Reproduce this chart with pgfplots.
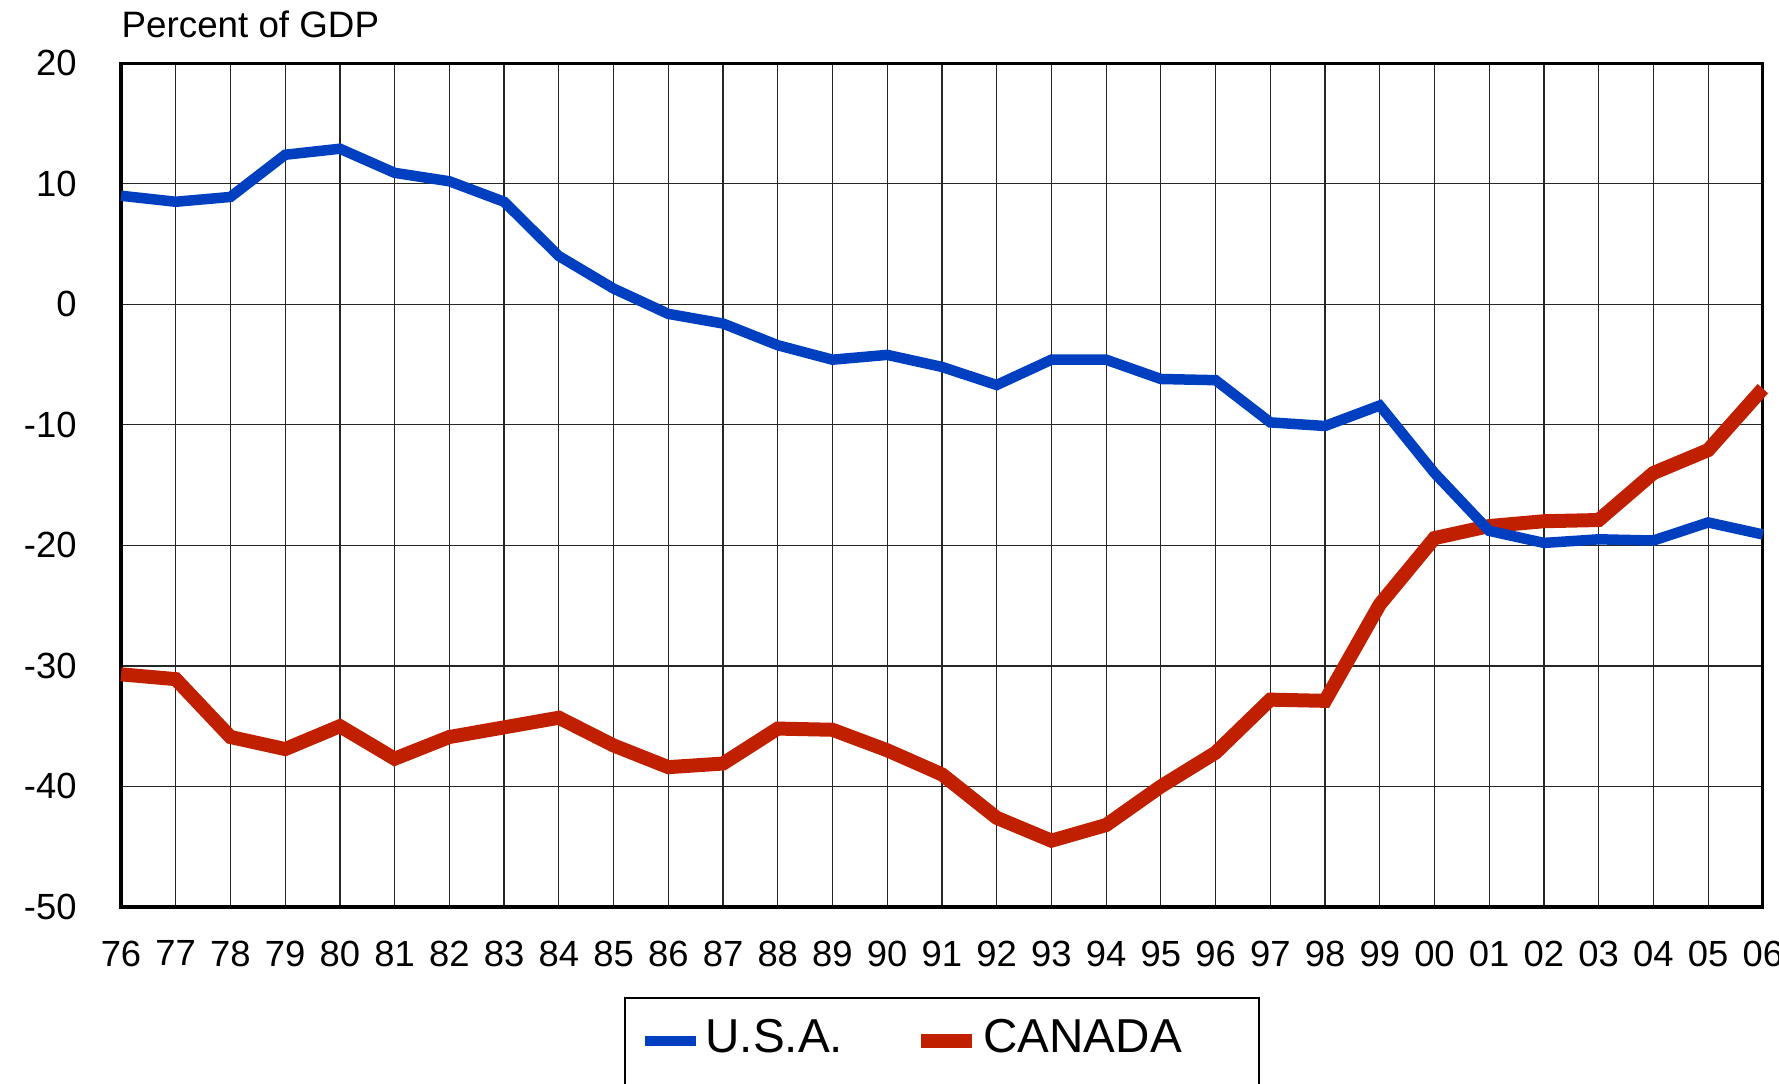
\documentclass[border=0pt]{standalone}
\usepackage{fontspec}
\setmainfont{Liberation Sans}
\usepackage{pgfplots}
\pgfplotsset{compat=1.18}
\definecolor{usablue}{RGB}{0,64,192}
\definecolor{canred}{RGB}{192,32,0}
\begin{document}
\begin{tikzpicture}
\begin{axis}[
  scale only axis, width=469.1pt, height=241.1pt,
  at={(0,0)}, anchor=south west,
  xmin=0, xmax=30, ymin=-50, ymax=20,
  xtick={0,...,30},
  xticklabels={76,77,78,79,80,81,82,83,84,85,86,87,88,89,90,91,92,93,94,95,96,97,98,99,00,01,02,03,04,05,06},
  ytick={-50,-40,-30,-20,-10,0,10,20},
  yticklabels={-50,-40,-30,-20,-10,0,10,20},
  major tick length=0pt,
  grid=major,
  major grid style={black!85, line width=0.35pt},
  axis line style={black, line width=0.9pt},
  tick label style={font=\fontsize{10.4}{12}\selectfont},
  yticklabel style={anchor=east, inner sep=0pt, xshift=-12.5pt},
  xticklabel style={anchor=north, inner sep=0pt, yshift=-9.4pt},
  clip=false,
  legend columns=2,
  legend style={at={(0.5,0)}, anchor=north, yshift=-25.7pt, draw=black, line width=0.6pt,
    inner xsep=4.4pt, inner ysep=6pt, font=\fontsize{13.6}{16}\selectfont,
    nodes={inner sep=0pt, text depth=20pt},
    /tikz/every odd column/.append style={column sep=1.2pt},
    /tikz/every even column/.append style={column sep=20.4pt}},
  legend image code/.code={\draw[#1, line cap=butt] (0pt,8.4pt) -- (14.5pt,8.4pt);},
]
\addlegendimage{usablue, line width=3pt}
\addlegendentry{U.S.A.}
\addlegendimage{canred, line width=4pt}
\addlegendentry{CANADA\hspace*{17.7pt}}
\addplot[canred, line width=4pt, line join=miter, line cap=butt, mark=none, forget plot] coordinates {
(0,-30.7) (1,-31.1) (2,-35.9) (3,-36.9) (4,-35.0) (5,-37.7) (6,-35.9) (7,-35.1) (8,-34.3) (9,-36.6)
(10,-38.4) (11,-38.1) (12,-35.2) (13,-35.3) (14,-37.0) (15,-39.0) (16,-42.6) (17,-44.5) (18,-43.2) (19,-40.0)
(20,-37.2) (21,-32.8) (22,-32.9) (23,-24.9) (24,-19.4) (25,-18.4) (26,-18.0) (27,-17.9) (28,-14.0) (29,-12.1) (30,-7.0)};
\addplot[usablue, line width=3pt, line join=miter, line cap=butt, mark=none, forget plot] coordinates {
(0,9.0) (1,8.5) (2,8.9) (3,12.4) (4,12.9) (5,10.9) (6,10.2) (7,8.5) (8,4.0) (9,1.3)
(10,-0.8) (11,-1.6) (12,-3.4) (13,-4.6) (14,-4.2) (15,-5.2) (16,-6.7) (17,-4.6) (18,-4.6) (19,-6.2)
(20,-6.3) (21,-9.8) (22,-10.1) (23,-8.4) (24,-14.0) (25,-18.8) (26,-19.8) (27,-19.5) (28,-19.6) (29,-18.1) (30,-19.1)};
\node[anchor=base west, inner sep=0pt, font=\fontsize{10.5}{12}\selectfont] at (rel axis cs:0,1) [yshift=7.3pt] {Percent of GDP};
\end{axis}
\pgfresetboundingbox
\path[use as bounding box] (-34.57pt,-50.29pt) rectangle (473.71pt,259.14pt);
\end{tikzpicture}
\end{document}
